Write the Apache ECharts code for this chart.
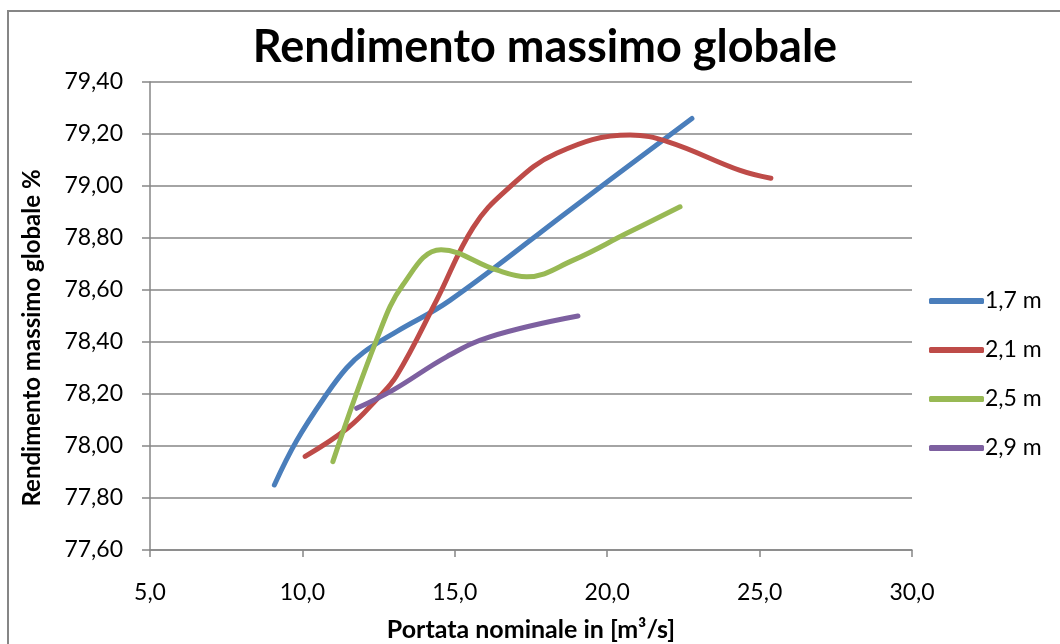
<!DOCTYPE html>
<html>
<head>
<meta charset="utf-8">
<script src="https://cdn.jsdelivr.net/npm/echarts@6/dist/echarts.min.js"></script>
<style>
html,body{margin:0;padding:0;background:#fff;}
#chart{width:1060px;height:644px;}
</style>
</head>
<body>
<div id="chart"></div>
<script>
const chartTitle = "Rendimento massimo globale";
const xAxisName = "Portata nominale in [m³/s]";
const yAxisName = "Rendimento massimo globale %";
const seriesNames = ["1,7 m", "2,1 m", "2,5 m", "2,9 m"];
const xTicks = [5, 10, 15, 20, 25, 30];
const yTicks = [77.6, 77.8, 78.0, 78.2, 78.4, 78.6, 78.8, 79.0, 79.2, 79.4];

const data17 = [[9.08,77.85],[9.81,78.02],[10.8,78.2],[11.45,78.3],[12.0,78.36],[13.09,78.44],[14.84,78.56],[18.8,78.91],[22.78,79.26]];
const data21 = [[10.09,77.96],[11.5,78.07],[12.44,78.18],[13.09,78.27],[14.4,78.56],[15.6,78.84],[16.7,78.985],[18.34,79.126],[20.75,79.196],[22.0,79.17],[24.36,79.06],[25.37,79.03]];
const data25 = [[11.0,77.94],[12.44,78.41],[13.3,78.62],[14.55,78.755],[16.37,78.677],[17.36,78.651],[18.89,78.715],[20.64,78.818],[22.39,78.92]];
const data29 = [[11.78,78.145],[12.97,78.215],[14.73,78.343],[16.15,78.42],[19.04,78.50]];

const colors = ["#4A7EBB", "#BE4B48", "#98B954", "#7D60A0"];
const allData = [data17, data21, data25, data29];
const FONT = "Lato";

const chart = echarts.init(document.getElementById('chart'), null, {renderer: 'canvas', width: 1060, height: 644});
const option = {
  animation: false,
  backgroundColor: '#fff',
  color: colors,
  title: {
    text: chartTitle,
    left: 540, textAlign: 'center', top: 20,
    textStyle: {fontFamily: FONT, fontSize: 45, fontWeight: 'bold', color: '#000'}
  },
  grid: {left: 150, right: 148, top: 82, bottom: 94, outerBoundsMode: 'none', containLabel: false},
  legend: {
    orient: 'vertical',
    left: 924, top: 284,
    itemWidth: 55, itemHeight: 6, itemGap: 25,
    icon: 'roundRect',
    data: seriesNames,
    textStyle: {fontFamily: FONT, fontSize: 23, color: '#000', lineHeight: 24, padding: [0,0,0,-4]}
  },
  graphic: [{
    type: 'rect', silent: true,
    shape: {x: 8, y: 11, width: 1200, height: 800},
    style: {fill: 'none', stroke: '#868686', lineWidth: 2}
  }],
  xAxis: {
    type: 'value', min: xTicks[0], max: xTicks[xTicks.length-1], interval: 5,
    name: xAxisName, nameLocation: 'middle', nameGap: 67,
    nameTextStyle: {fontFamily: FONT, fontSize: 25, fontWeight: 'bold', color: '#000'},
    axisLine: {show: true, lineStyle: {color: '#868686', width: 1.5}},
    axisTick: {show: true, inside: false, length: 7, lineStyle: {color: '#868686', width: 1.5}},
    axisLabel: {fontFamily: FONT, fontSize: 23, color: '#000', margin: 31,
      formatter: v => v.toFixed(1).replace('.', ',')},
    splitLine: {show: false}
  },
  yAxis: {
    type: 'value', min: yTicks[0], max: yTicks[yTicks.length-1], interval: 0.2,
    name: yAxisName, nameLocation: 'middle', nameGap: 106, nameRotate: 90,
    nameTextStyle: {fontFamily: FONT, fontSize: 24, fontWeight: 'bold', color: '#000', padding: [0, 44, 0, 0]},
    axisLine: {show: true, lineStyle: {color: '#868686', width: 1.5}},
    axisTick: {show: true, inside: false, length: 8, lineStyle: {color: '#868686', width: 1.5}},
    axisLabel: {fontFamily: FONT, fontSize: 23, color: '#000', margin: 27,
      formatter: v => v.toFixed(2).replace('.', ',')},
    splitLine: {show: true, lineStyle: {color: '#868686', width: 1.5}}
  },
  series: seriesNames.map((n, i) => ({
    name: n, type: 'line', data: allData[i], smooth: 0.4,
    symbol: 'none', showSymbol: false,
    lineStyle: {width: 5, color: colors[i], cap: 'round', join: 'round'},
    itemStyle: {color: colors[i]}
  }))
};
chart.setOption(option);
</script>
</body>
</html>
